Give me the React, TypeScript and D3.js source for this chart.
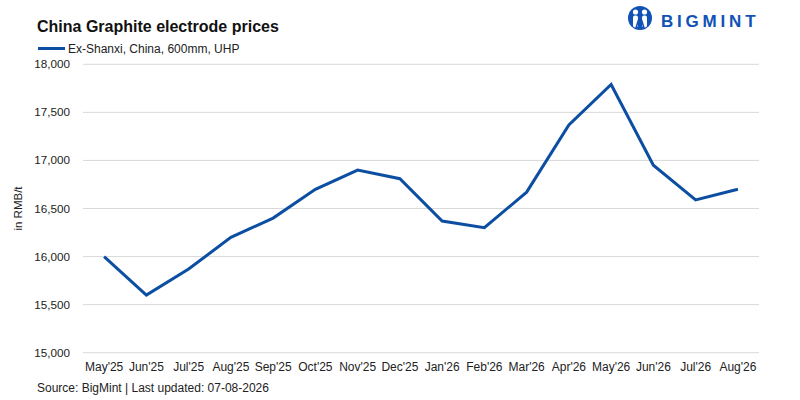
import React from "react";
import * as d3 from "d3";

const categories = ["May'25","Jun'25","Jul'25","Aug'25","Sep'25","Oct'25","Nov'25","Dec'25","Jan'26","Feb'26","Mar'26","Apr'26","May'26","Jun'26","Jul'26","Aug'26"];
const prices = [16000,15600,15870,16200,16400,16700,16900,16810,16370,16300,16670,17370,17790,16950,16590,16700];
const yTicks = [15000,15500,16000,16500,17000,17500,18000];
const seriesName = "Ex-Shanxi, China, 600mm, UHP";
const title = "China Graphite electrode prices";
const source = "Source: BigMint | Last updated: 07-08-2026";
const yLabel = "in RMB/t";

const W = 800, H = 400;
const left = 83, right = 759, top = 64.3, bottom = 352.7;
const blue = "#0b4ea2";
const font = "'Liberation Sans', Arial, sans-serif";

export default function App() {
  const x = d3.scaleBand<string>().domain(categories).range([left, right]).padding(0);
  const y = d3.scaleLinear().domain([15000, 18000]).range([bottom, top]);
  const cx = (c: string) => (x(c) as number) + x.bandwidth() / 2;
  const line = d3.line<number>().x((_, i) => cx(categories[i])).y(d => y(d));
  const fmt = d3.format(",");
  return (
    <>
      <style>{`body{margin:0}`}</style>
      <svg width={W} height={H} style={{ display: "block", fontFamily: font }}>
        <rect width={W} height={H} fill="#fff" />
        <text x={37} y={31.7} fontSize={16} fontWeight="bold" fill="#111">{title}</text>
        {/* logo */}
        <g>
          <circle cx={640} cy={18} r={12} fill="#1152b5" />
          <circle cx={635.5} cy={12} r={2.6} fill="#fff" />
          <circle cx={644.5} cy={12} r={2.6} fill="#fff" />
          <rect x={633} y={15.5} width={5} height={12} rx={2} fill="#fff" />
          <rect x={642} y={15.5} width={5} height={12} rx={2} fill="#fff" />
          <path d="M636 28 L638.5 20 L640 25 L641.5 20 L644 28" stroke="#1152b5" strokeWidth={1.6} fill="none" />
        </g>
        <text x={661} y={26.5} fontSize={17} fontWeight="bold" fill="#1152b5" letterSpacing={3.8}>BIGMINT</text>
        {/* legend */}
        <line x1={38} x2={65} y1={48.5} y2={48.5} stroke={blue} strokeWidth={3} />
        <text x={68} y={53} fontSize={12} fill="#222">{seriesName}</text>
        {/* grid */}
        {yTicks.map(t => (
          <g key={t}>
            <line x1={left} x2={right} y1={y(t)} y2={y(t)} stroke="#d9d9d9" strokeWidth={1} />
            <text x={70} y={y(t) + 4} fontSize={11.7} textAnchor="end" fill="#222">{fmt(t)}</text>
          </g>
        ))}
        <text transform={`translate(22,${(top + bottom) / 2}) rotate(-90)`} fontSize={11.5} textAnchor="middle" fill="#222">{yLabel}</text>
        {categories.map(c => (
          <text key={c} x={cx(c)} y={371} fontSize={12} textAnchor="middle" fill="#222">{c}</text>
        ))}
        <path d={line(prices) || ""} fill="none" stroke={blue} strokeWidth={3} strokeLinejoin="miter" />
        <text x={37} y={392} fontSize={12} fill="#222">{source}</text>
      </svg>
    </>
  );
}
